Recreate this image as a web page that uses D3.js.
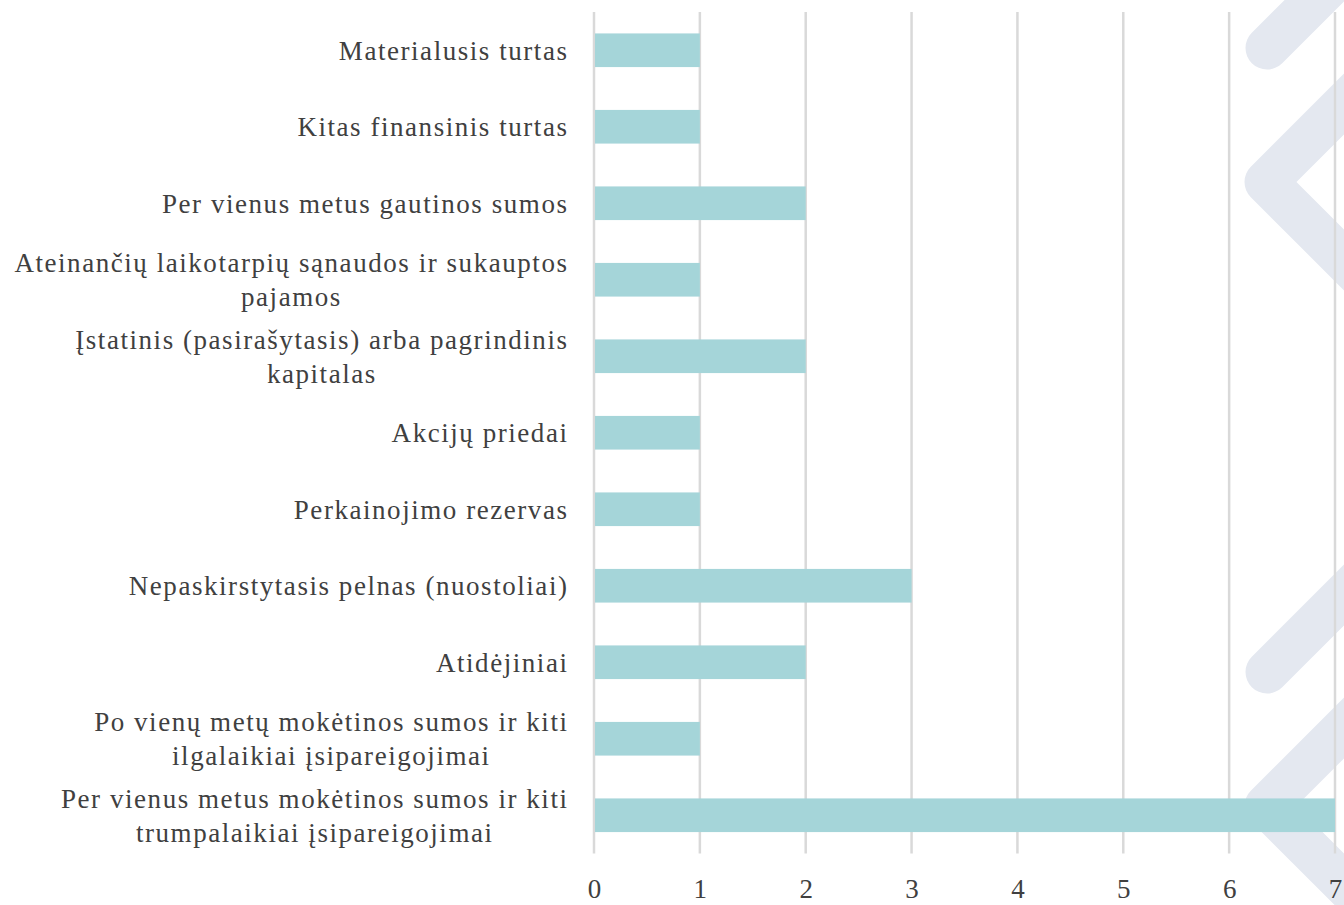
<!DOCTYPE html>
<html>
<head>
<meta charset="utf-8">
<script src="https://cdn.jsdelivr.net/npm/d3@7"></script>
<style>
  body { margin: 0; background: #fff; }
</style>
</head>
<body>
<div id="chart"></div>
<script>
// categories, top to bottom ("\n" marks a line break in the label)
const categories = [
  'Materialusis turtas',
  'Kitas finansinis turtas',
  'Per vienus metus gautinos sumos',
  'Ateinančių laikotarpių sąnaudos ir sukauptos\npajamos',
  'Įstatinis (pasirašytasis) arba pagrindinis\nkapitalas',
  'Akcijų priedai',
  'Perkainojimo rezervas',
  'Nepaskirstytasis pelnas (nuostoliai)',
  'Atidėjiniai',
  'Po vienų metų mokėtinos sumos ir kiti\nilgalaikiai įsipareigojimai',
  'Per vienus metus mokėtinos sumos ir kiti\ntrumpalaikiai įsipareigojimai'
]
const values = [1, 1, 2, 1, 2, 1, 1, 3, 2, 1, 7]
const xTicks = [0, 1, 2, 3, 4, 5, 6, 7]

const width = 1344
const height = 905
const margin = { top: 12, right: 9, bottom: 51.5, left: 594 }
const serif = "'Liberation Serif', 'Times New Roman', serif"

const svg = d3.select('#chart')
  .append('svg')
  .attr('width', width)
  .attr('height', height)

const x = d3.scaleLinear()
  .domain([0, 7])
  .range([margin.left, width - margin.right])

const y = d3.scaleBand()
  .domain(categories)
  .range([margin.top, height - margin.bottom])
  .paddingInner(0.56)
  .paddingOuter(0.28)

// background decoration (chevrons on the right edge)
const deco = svg.append('g')
  .attr('fill', 'none')
  .attr('stroke', '#e4e8f0')
  .attr('stroke-width', 43)
  .attr('stroke-linecap', 'round')
  .attr('stroke-linejoin', 'round')

;[0, 624].forEach(dy => {
  deco.append('path')
    .attr('d', `M1267,${48 + dy}L1367,${-52 + dy}`)
  deco.append('path')
    .attr('d', `M1420,${28 + dy}L1266,${182 + dy}L1420,${336 + dy}`)
})

// grid lines
svg.append('g')
  .selectAll('line')
  .data(xTicks)
  .join('line')
    .attr('x1', d => x(d))
    .attr('x2', d => x(d))
    .attr('y1', margin.top)
    .attr('y2', height - margin.bottom)
    .attr('stroke', '#d9d9d9')
    .attr('stroke-width', 2.5)

// bars
svg.append('g')
  .selectAll('rect')
  .data(values)
  .join('rect')
    .attr('x', x(0) + 1)
    .attr('y', (d, i) => y(categories[i]))
    .attr('width', d => x(d) - x(0) - 1)
    .attr('height', y.bandwidth())
    .attr('fill', '#a5d5d9')

// x axis labels
const xAxis = svg.append('g')
  .attr('transform', `translate(0,${height - margin.bottom})`)
  .call(d3.axisBottom(x).tickValues(xTicks).tickFormat(d3.format('d')).tickSize(0).tickPadding(25))
xAxis.select('.domain').remove()
xAxis.attr('font-family', null).attr('font-size', null)
xAxis.selectAll('text')
  .style('font-family', serif)
  .style('font-size', '27px')
  .attr('fill', '#404040')

// category labels: block right-aligned, lines centered inside the block
const labelRight = 568.5
const lineHeight = 34
const labels = svg.append('g')
  .selectAll('g')
  .data(categories)
  .join('g')
    .attr('transform', d => `translate(0,${y(d) + y.bandwidth() / 2})`)

labels.each(function (d) {
  const g = d3.select(this)
  const lines = d.split('\n')
  const texts = g.selectAll('text')
    .data(lines)
    .join('text')
      .style('font-family', serif)
      .style('font-size', '27px')
      .style('letter-spacing', '1.55px')
      .attr('fill', '#404040')
      .attr('text-anchor', 'middle')
      .attr('dy', '0.35em')
      .attr('y', (l, i) => (i - (lines.length - 1) / 2) * lineHeight)
      .text(l => l)
  const maxW = d3.max(texts.nodes(), n => n.getComputedTextLength())
  texts.attr('x', labelRight - maxW / 2)
})
</script>
</body>
</html>
